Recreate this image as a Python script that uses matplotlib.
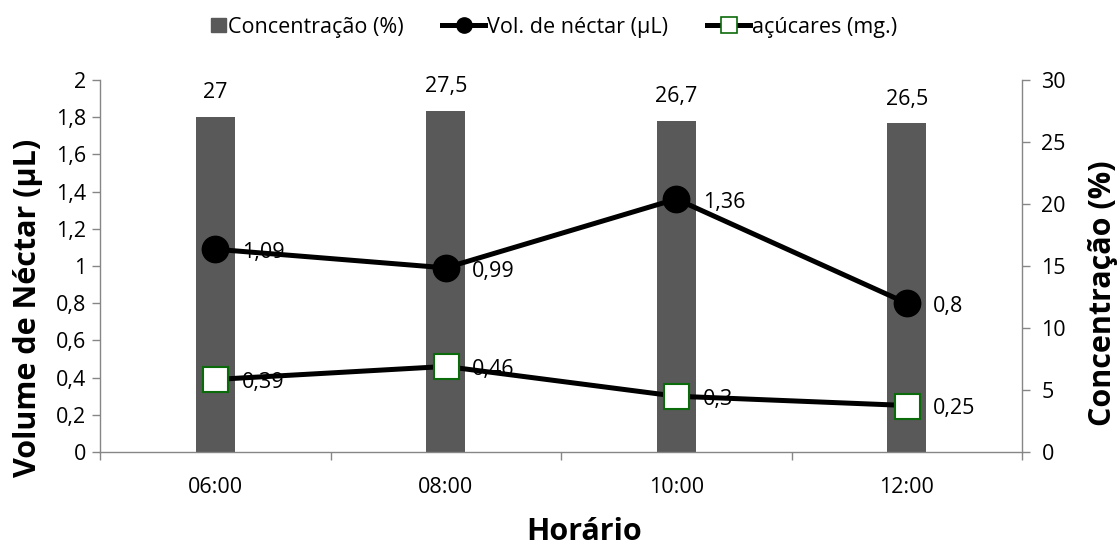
import matplotlib
matplotlib.use("Agg")
import matplotlib.pyplot as plt
from matplotlib.lines import Line2D
from matplotlib.patches import Rectangle
from matplotlib.legend_handler import HandlerPatch

categories = ["06:00", "08:00", "10:00", "12:00"]
concentracao = [27, 27.5, 26.7, 26.5]
vol_nectar = [1.09, 0.99, 1.36, 0.8]
acucares = [0.39, 0.46, 0.3, 0.25]

left_ticks = [0, 0.2, 0.4, 0.6, 0.8, 1, 1.2, 1.4, 1.6, 1.8, 2]
right_ticks = [0, 5, 10, 15, 20, 25, 30]

def fmt(v):
    return ("%g" % v).replace(".", ",")

plt.rcParams['font.family'] = ['Open Sans', 'DejaVu Sans']
FS = 15.5
LFS = 22
GRAY = "#868686"
BAR = "#595959"
W, H = 1120, 549

fig = plt.figure(figsize=(11.2, 5.49), dpi=100)
ax = fig.add_axes([100/W, 1-452/H, 922/W, 372/H])
ax2 = ax.twinx()

x = list(range(len(categories)))
ax2.bar(x, concentracao, width=0.17, color=BAR, zorder=1)
ax2.set_ylim(0, 30)
ax2.set_yticks(right_ticks)
ax2.set_yticklabels([fmt(t) for t in right_ticks], fontsize=FS)
for xi, v in zip(x, concentracao):
    ax2.annotate(fmt(v), (xi, v), xytext=(0, 10), textcoords="offset points",
                 ha="center", va="bottom", fontsize=FS)

ax.set_zorder(ax2.get_zorder() + 1)
ax.patch.set_visible(False)

ax.plot(x, vol_nectar, color="black", lw=3.6, marker="o", ms=19, mfc="black", mec="black", zorder=3)
ax.plot(x, acucares, color="black", lw=3.6, marker="s", ms=18, mfc="white", mec="#0b6b0b", mew=1.5, zorder=3)
for xi, v in zip(x, vol_nectar):
    ax.annotate(fmt(v), (xi, v), xytext=(19, -2.5), textcoords="offset points",
                ha="left", va="center", fontsize=FS)
for xi, v in zip(x, acucares):
    ax.annotate(fmt(v), (xi, v), xytext=(19, -2.5), textcoords="offset points",
                ha="left", va="center", fontsize=FS)

ax.set_xlim(-0.5, len(categories) - 0.5)
ax.set_ylim(0, 2)
ax.set_yticks(left_ticks)
ax.set_yticklabels([fmt(t) for t in left_ticks], fontsize=FS)
ax.set_xticks(x)
ax.set_xticklabels(categories, fontsize=FS)
ax.set_xticks([i - 0.5 for i in range(len(categories) + 1)], minor=True)
ax.tick_params(axis="x", which="major", length=0, pad=18)
ax.tick_params(axis="x", which="minor", length=6, color=GRAY, width=1)
ax.tick_params(axis="y", length=6, color=GRAY, width=1, pad=4)
ax2.tick_params(axis="y", length=6, color=GRAY, width=1, pad=8)

for a in (ax, ax2):
    a.spines["top"].set_visible(False)
    for s in ("left", "right", "bottom"):
        a.spines[s].set_color(GRAY)
        a.spines[s].set_linewidth(1)
ax.spines["right"].set_visible(False)
ax2.spines["left"].set_visible(False)
ax2.spines["bottom"].set_visible(False)

fig.text(584/W, 1-540/H, "Horário", fontsize=LFS, fontweight="bold", ha="center", va="baseline")
fig.text(28/W, 1-308/H, "Volume de Néctar (µL)", fontsize=LFS, fontweight="bold",
         ha="center", va="center", rotation=90)
fig.text(1103/W, 1-293/H, "Concentração (%)", fontsize=LFS, fontweight="bold",
         ha="center", va="center", rotation=90)

def square_right(legend, orig_handle, xdescent, ydescent, width, height, fontsize):
    s = height * 0.95
    return Rectangle((width - xdescent - s, (height - s) / 2 - ydescent), s, s)

bar_handle = Rectangle((0, 0), 1, 1, color=BAR)
handles = [
    bar_handle,
    Line2D([], [], color="black", lw=3.6, marker="o", ms=11),
    Line2D([], [], color="black", lw=3.6, marker="s", ms=11, mfc="white", mec="#0b6b0b", mew=1.2),
]
labels = ["Concentração (%)", "Vol. de néctar (µL)", "açúcares (mg.)"]
fig.legend(handles, labels, loc="center", bbox_to_anchor=(540/W, 1-27/H), ncol=3,
           frameon=False, fontsize=FS, handlelength=2.0, handletextpad=0.1, columnspacing=1.8,
           handler_map={Rectangle: HandlerPatch(patch_func=square_right)})

fig.savefig("out.png", dpi=100)
